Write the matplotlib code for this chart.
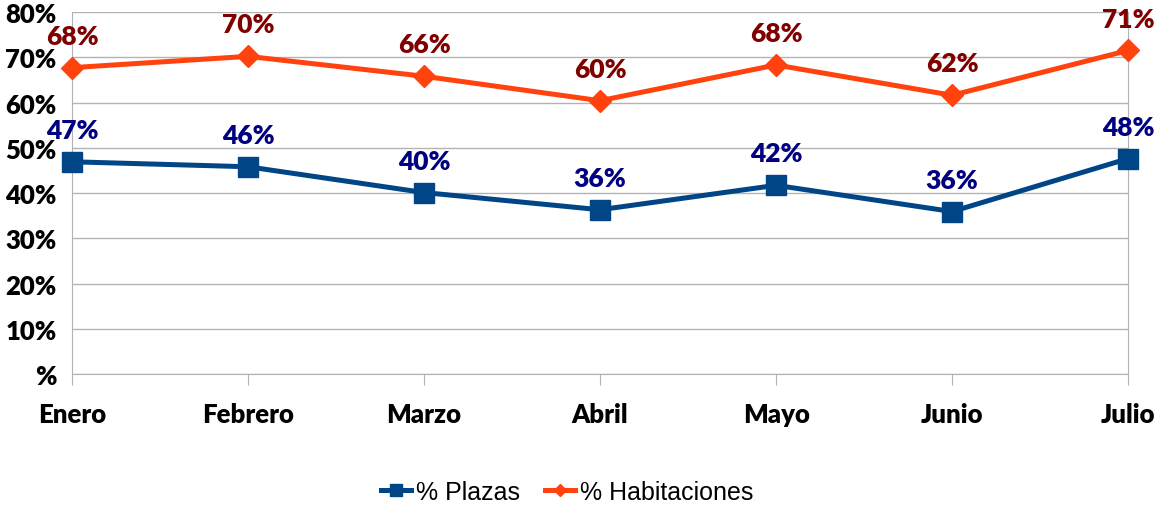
import matplotlib.pyplot as plt
import numpy as np

meses = ['Enero', 'Febrero', 'Marzo', 'Abril', 'Mayo', 'Junio', 'Julio']
plazas = [46.9, 45.8, 40.1, 36.3, 41.7, 35.9, 47.6]
habitaciones = [67.7, 70.2, 65.8, 60.4, 68.3, 61.6, 71.5]
plazas_labels = ['47%', '46%', '40%', '36%', '42%', '36%', '48%']
habit_labels = ['68%', '70%', '66%', '60%', '68%', '62%', '71%']
yticks = [0, 10, 20, 30, 40, 50, 60, 70, 80]
ytick_labels = ['%', '10%', '20%', '30%', '40%', '50%', '60%', '70%', '80%']

fig = plt.figure(figsize=(11.63, 5.10), dpi=100)
ax = fig.add_axes([0.0619, 0.2647, 0.9081, 0.7098])

x = np.arange(len(meses))
ax.plot(x, plazas, color='#004586', lw=3.6, marker='s', ms=15,
        label='% Plazas', zorder=3, clip_on=False)
ax.plot(x, habitaciones, color='#ff420e', lw=3.6, marker='D', ms=11,
        label='% Habitaciones', zorder=3, clip_on=False)

# Data labels
for i in range(len(meses)):
    ax.annotate(plazas_labels[i], (x[i], plazas[i]), xytext=(0, 23),
                textcoords='offset points', ha='center', va='center',
                color='#000080', fontsize=19, fontweight='heavy',
                family='Lato', zorder=4)
    ax.annotate(habit_labels[i], (x[i], habitaciones[i]), xytext=(0, 23),
                textcoords='offset points', ha='center', va='center',
                color='#800000', fontsize=19, fontweight='heavy',
                family='Lato', zorder=4)

ax.set_xlim(0, len(meses) - 1)
ax.set_ylim(0, 80)
ax.set_yticks(yticks)
ax.set_yticklabels(ytick_labels)
ax.set_xticks(x)
ax.set_xticklabels(meses)
for lbl in ax.get_xticklabels() + ax.get_yticklabels():
    lbl.set_family('Lato')
    lbl.set_fontweight('heavy')
    lbl.set_fontsize(18.5)

ax.grid(axis='y', color='#b3b3b3', lw=1)
ax.set_axisbelow(True)
ax.tick_params(axis='y', length=0, pad=11)
ax.tick_params(axis='x', length=8, color='#b3b3b3', pad=12)
for side in ['left', 'right', 'bottom']:
    ax.spines[side].set_color('#b3b3b3')
ax.spines['top'].set_visible(False)

fig.legend(loc='center', bbox_to_anchor=(0.488, 0.033), ncol=2, frameon=False,
           prop={'family': 'Liberation Sans', 'size': 18},
           handlelength=1.2, handletextpad=0.2, columnspacing=1.0,
           markerscale=0.6)

plt.savefig('out.png', dpi=100)
